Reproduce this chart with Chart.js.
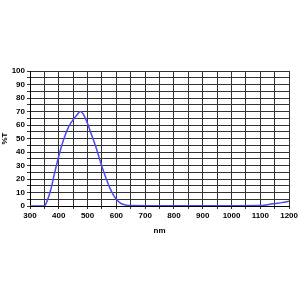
<!DOCTYPE html>
<html>
<head>
<meta charset="utf-8">
<script src="https://cdn.jsdelivr.net/npm/chart.js@4"></script>
<style>
  html, body { margin: 0; padding: 0; background: #fff; }
  #wrap { width: 300px; height: 300px; }
</style>
</head>
<body>
<div id="wrap"><canvas id="chart" width="300" height="300"></canvas></div>
<script>
// wavelength (nm) and transmission (%T)
const wavelengths = [300, 350, 360, 372, 385, 400, 418, 435, 450, 465, 475, 485, 500, 515, 530, 550, 565, 576, 590, 600, 615, 628, 650, 700, 800, 900, 1000, 1100, 1125, 1150, 1175, 1200];
const transmission = [0, 0, 4, 12, 24, 37, 50, 59, 64, 68, 70, 68, 61, 52, 43, 29, 20, 14, 8, 5, 2, 1, 0.3, 0.2, 0.2, 0.2, 0.2, 0.3, 1, 1.8, 2.5, 3.5];
const xTitle = 'nm';
const yTitle = '%T';

const points = wavelengths.map((w, i) => ({ x: w, y: transmission[i] }));
const tickFont = { family: 'Liberation Sans, Arial, sans-serif', size: 8, weight: 'bold' };

new Chart(document.getElementById('chart'), {
    type: 'line',
    data: {
        datasets: [{
            data: points,
            borderColor: '#4a4af0',
            borderWidth: 1.5,
            pointRadius: 0,
            cubicInterpolationMode: 'monotone',
            fill: false
        }]
    },
    options: {
        responsive: false,
        animation: false,
        layout: { padding: { top: 71, right: 10, bottom: 64, left: 0 } },
        plugins: { legend: { display: false }, tooltip: { enabled: false } },
        scales: {
            x: {
                type: 'linear',
                min: 300,
                max: 1200,
                ticks: {
                    stepSize: 50,
                    color: '#000',
                    font: tickFont,
                    padding: 2,
                    maxRotation: 0,
                    autoSkip: false,
                    callback: v => (v % 100 === 0 ? v : '')
                },
                grid: { color: '#333', lineWidth: 1, tickLength: 3 },
                border: { color: '#000', width: 1 },
                title: { display: true, text: xTitle, color: '#000', font: tickFont, padding: { top: 4, bottom: 0 } },
                afterFit: s => { s.height = 30; }
            },
            y: {
                min: 0,
                max: 100,
                ticks: {
                    stepSize: 5,
                    color: '#000',
                    font: tickFont,
                    padding: 2,
                    autoSkip: false,
                    callback: v => (v % 10 === 0 ? v : '')
                },
                grid: { color: '#333', lineWidth: 1, tickLength: 3 },
                border: { color: '#000', width: 1 },
                title: { display: true, text: yTitle, color: '#000', font: tickFont, padding: 0 },
                afterFit: s => { s.width = 30; }
            }
        }
    }
});
</script>
</body>
</html>
